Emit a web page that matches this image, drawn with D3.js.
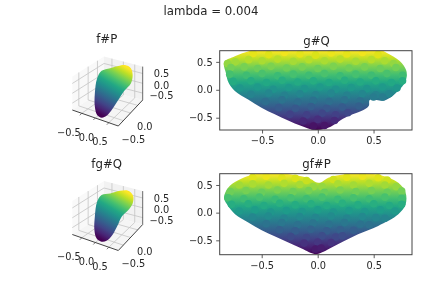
<!DOCTYPE html>
<html><head><meta charset="utf-8">
<script src="https://cdn.jsdelivr.net/npm/d3@7/dist/d3.min.js"></script>
<style>html,body{margin:0;background:#fff}svg{display:block;filter:blur(.35px)}text{font-family:"DejaVu Sans",sans-serif;fill:#262626}</style>
</head><body><script>
const suptitle = "lambda = 0.004";
const titles3d = ["f#P", "fg#Q"];
const titles2d = ["g#Q", "gf#P"];
const ticks2d = [-0.5, 0, 0.5];
const xTicks3d = [-0.5, 0, 0.5];
const yTicks3d = [-0.5, 0];
const zTicks3d = [-0.5, 0, 0.5];
const gridTicks3d = [-0.5, 0, 0.5];

const outlineGQ = [[-.84,.49],[-.825,.305],[-.80,.125],[-.744,-.02],[-.625,-.175],[-.505,-.32],[-.386,-.44],[-.266,-.55],[-.146,-.65],[-.027,-.72],[.092,-.68],[.182,-.575],[.272,-.47],[.39,-.38],[.457,-.29],[.466,-.185],[.60,-.19],[.72,-.02],[.787,.155],[.795,.335],[.735,.515],[.616,.665],[.54,.72],[0,.72],[-.54,.72],[-.655,.67],[-.744,.6]];
const outlineGFP = [[-.837,.27],[-.81,.15],[-.738,-.03],[-.62,-.18],[-.50,-.32],[-.38,-.43],[-.262,-.54],[-.143,-.65],[-.024,-.75],[.035,-.72],[.18,-.57],[.36,-.39],[.54,-.24],[.72,-.03],[.785,.15],[.785,.36],[.72,.54],[.57,.67],[.36,.71],[.184,.675],[.095,.63],[.02,.54],[-.024,.56],[-.054,.60],[-.2,.68],[-.41,.71],[-.59,.68],[-.71,.585],[-.80,.45]];

const pointsGQ = [
[-.58,.65],[-.44,.63],[-.30,.67],[-.16,.64],[-.02,.62],[.12,.66],[.26,.64],[.40,.67],[.54,.63],
[-.81,.47],[-.74,.50],[-.62,.54],[-.50,.52],[-.36,.55],[-.22,.51],[-.08,.54],[.06,.52],[.20,.55],[.34,.51],[.48,.54],[.60,.52],[.68,.47],
[-.78,.40],[-.66,.41],[-.54,.38],[-.42,.42],[-.28,.39],[-.14,.41],[0,.38],[.14,.42],[.28,.39],[.42,.41],[.56,.38],[.70,.40],
[-.79,.28],[-.64,.26],[-.50,.29],[-.36,.25],[-.22,.28],[-.08,.26],[.06,.29],[.20,.25],[.34,.28],[.48,.26],[.62,.29],[.76,.26],
[-.76,.15],[-.60,.16],[-.46,.13],[-.32,.17],[-.18,.14],[-.04,.16],[.10,.13],[.24,.17],[.38,.14],[.52,.16],[.66,.13],[.76,.16],
[-.70,.03],[-.54,.05],[-.40,.01],[-.26,.04],[-.12,.02],[.02,.05],[.16,.01],[.30,.04],[.44,.02],[.58,.05],[.71,.03],
[-.60,-.08],[-.44,-.06],[-.30,-.10],[-.16,-.07],[-.02,-.09],[.12,-.06],[.26,-.10],[.40,-.07],[.52,-.09],[.64,-.07],
[-.47,-.21],[-.32,-.18],[-.18,-.22],[-.04,-.19],[.10,-.21],[.24,-.18],[.38,-.20],[.50,-.13],[.58,-.13],
[-.35,-.32],[-.20,-.33],[-.06,-.30],[.08,-.33],[.22,-.31],[.37,-.29],
[-.25,-.44],[-.10,-.45],[.04,-.42],[.16,-.45],[.27,-.41],
[-.13,-.56],[0,-.53],[.15,-.55],
[-.04,-.65],[.06,-.64]];

const pointsGFP = [
[-.58,.64],[-.46,.66],[-.32,.63],[-.20,.62],[-.10,.58],[.14,.60],[.26,.64],[.40,.66],[.54,.63],[.62,.59],
[-.70,.50],[-.58,.52],[-.44,.50],[-.30,.53],[-.16,.51],[-.04,.47],[.04,.47],[.18,.52],[.32,.50],[.46,.53],[.60,.50],[.70,.47],
[-.78,.38],[-.64,.40],[-.50,.37],[-.36,.41],[-.22,.38],[-.08,.40],[.06,.37],[.20,.41],[.34,.38],[.48,.40],[.62,.37],[.75,.39],
[-.80,.27],[-.66,.25],[-.52,.28],[-.38,.24],[-.24,.27],[-.10,.25],[.04,.28],[.18,.24],[.32,.27],[.46,.25],[.60,.28],[.75,.26],
[-.77,.15],[-.62,.16],[-.48,.13],[-.34,.17],[-.20,.14],[-.06,.16],[.08,.13],[.22,.17],[.36,.14],[.50,.16],[.64,.13],[.75,.15],
[-.70,.03],[-.56,.05],[-.42,.01],[-.28,.04],[-.14,.02],[0,.05],[.14,.01],[.28,.04],[.42,.02],[.56,.05],[.69,.03],
[-.58,-.08],[-.44,-.06],[-.30,-.10],[-.16,-.07],[-.02,-.09],[.12,-.06],[.26,-.10],[.40,-.07],[.52,-.09],[.60,-.10],
[-.46,-.20],[-.32,-.18],[-.18,-.22],[-.04,-.19],[.10,-.21],[.24,-.18],[.38,-.21],[.46,-.22],
[-.34,-.31],[-.20,-.33],[-.06,-.30],[.08,-.33],[.20,-.31],[.32,-.32],
[-.24,-.43],[-.10,-.45],[.04,-.42],[.16,-.44],[.22,-.42],
[-.12,-.55],[0,-.53],[.12,-.54],
[-.02,-.66],[.03,-.64]];

const blobFP = [[-.12,-.57],[-.22,-.51],[-.27,-.33],[-.27,-.03],[-.22,.30],[-.12,.47],[.07,.53],[.25,.58],[.40,.60],[.53,.53],[.57,.38],[.53,.19],[.38,.02],[.25,-.18],[.12,-.38],[-.01,-.53]];
const blobFGQ = [[-.12,-.56],[-.23,-.49],[-.28,-.30],[-.27,0],[-.22,.33],[-.12,.48],[.07,.51],[.29,.57],[.47,.57],[.58,.46],[.57,.29],[.47,.14],[.33,0],[.24,-.19],[.12,-.41],[-.01,-.54]];

const W = 423, H = 282, L = 0.85;
const svg = d3.select("body").append("svg").attr("width", W).attr("height", H);
const defs = svg.append("defs");
const fmt = d => d3.format(".1f")(d).replace("-", "\u2212");
svg.append("text").attr("x", 211).attr("y", 15).attr("text-anchor", "middle").attr("font-size", 11.75).text(suptitle);

function gradient(id, x1, y1, x2, y2) {
  const g = defs.append("linearGradient").attr("id", id).attr("gradientUnits", "userSpaceOnUse")
    .attr("x1", x1).attr("y1", y1).attr("x2", x2).attr("y2", y2);
  d3.range(0, 1.01, 0.1).forEach(t => g.append("stop").attr("offset", t).attr("stop-color", d3.interpolateViridis(t)));
}

function panel2d(idx, title, outline, points, top, bottom, xd, yd) {
  const x = d3.scaleLinear().domain(xd).range([219.7, 412]);
  const y = d3.scaleLinear().domain(yd).range([bottom, top]);
  const c = d3.scaleSequential(d3.interpolateViridis).domain(yd);
  const id = "g2" + idx;
  gradient(id, 0, y(yd[0]), 0, y(yd[1]));
  defs.append("clipPath").attr("id", "c" + id).append("rect").attr("x", 219.7).attr("y", top).attr("width", 192.3).attr("height", bottom - top);
  const g = svg.append("g").attr("clip-path", `url(#c${id})`);
  g.append("path").attr("d", d3.line().x(d => x(d[0])).y(d => y(d[1])).curve(d3.curveCatmullRomClosed)(outline)).attr("fill", `url(#${id})`);
  g.selectAll("circle").data(points).join("circle").attr("cx", d => x(d[0])).attr("cy", d => y(d[1])).attr("r", 3.8).attr("fill", d => c(d[1]));
  const ax = svg.append("g").attr("transform", `translate(0,${bottom})`).call(d3.axisBottom(x).tickValues(ticks2d).tickFormat(fmt).tickSize(3.5).tickPadding(3.5));
  const ay = svg.append("g").attr("transform", "translate(219.7,0)").call(d3.axisLeft(y).tickValues(ticks2d).tickFormat(fmt).tickSize(3.5).tickPadding(3.5));
  [ax, ay].forEach(a => { a.selectAll(".domain").remove(); a.selectAll("line").attr("stroke", "#333").attr("stroke-width", .8); a.selectAll("text").attr("font-size", 9.8).attr("font-family", '"DejaVu Sans"'); });
  svg.append("rect").attr("x", 219.7).attr("y", top).attr("width", 192.3).attr("height", bottom - top).attr("fill", "none").attr("stroke", "#444").attr("stroke-width", 1);
  svg.append("text").attr("x", 316.5).attr("y", top - 6).attr("text-anchor", "middle").attr("font-size", 11.75).text(title);
}
panel2d(0, titles2d[0], outlineGQ, pointsGQ, 50.7, 130, [-.88, .845], [-.72, .70]);
panel2d(1, titles2d[1], outlineGFP, pointsGFP, 173.7, 254.7, [-.875, .842], [-.76, .704]);

function panel3d(idx, title, blob, dy) {
  const g = svg.append("g").attr("transform", `translate(0,${dy})`);
  const t = d3.scaleLinear().domain([-L, L]).range([0, 1]);
  const floorA = [[72.3, 110], [118.3, 126]], floorB = [[104, 90], [142.7, 100]];
  const lerp = (a, b, k) => [a[0] + (b[0] - a[0]) * k, a[1] + (b[1] - a[1]) * k];
  const p = (x, y, z) => {
    const q = lerp(lerp(floorA[0], floorA[1], t(x)), lerp(floorB[0], floorB[1], t(x)), t(y));
    return [q[0], q[1] - 33.4 * t(z)];
  };
  const line = d3.line();
  const poly = (pts, fill) => g.append("path").attr("d", d3.line().curve(d3.curveLinearClosed)(pts)).attr("fill", fill).attr("stroke", "none");
  const seg = (a, b, col, w) => g.append("path").attr("d", line([a, b])).attr("stroke", col).attr("stroke-width", w).attr("fill", "none");
  poly([p(-L,-L,-L), p(-L,L,-L), p(-L,L,L), p(-L,-L,L)], "#f9f9f9");
  poly([p(-L,L,-L), p(L,L,-L), p(L,L,L), p(-L,L,L)], "#f2f2f2");
  poly([p(-L,-L,-L), p(L,-L,-L), p(L,L,-L), p(-L,L,-L)], "#f5f5f5");
  const gc = "#c4c4c4";
  gridTicks3d.forEach(v => {
    seg(p(-L,v,-L), p(-L,v,L), gc, .8);
    seg(p(v,L,-L), p(v,L,L), gc, .8);
    seg(p(v,-L,-L), p(v,L,-L), gc, .8);
    seg(p(-L,v,-L), p(L,v,-L), gc, .8);
    seg(p(-L,-L,v), p(-L,L,v), gc, .8);
    seg(p(-L,L,v), p(L,L,v), gc, .8);
  });
  seg(p(-L,-L,-L), p(L,-L,-L), "#444", 1);
  seg(p(L,-L,-L), p(L,L,-L), "#444", 1);
  seg(p(L,L,-L), p(L,L,L), "#444", .8);
  const vx = d3.scaleLinear().domain([-1, 1]).range([62, 152]);
  const vy = d3.scaleLinear().domain([-1, 1]).range([137, 47]);
  const id = "g3" + idx;
  gradient(id, 103, 116, 130, 69.3);
  g.append("path").attr("d", d3.line().x(d => vx(d[0])).y(d => vy(d[1])).curve(d3.curveCatmullRomClosed)(blob)).attr("fill", `url(#${id})`);
  const label = (s, a, dx, yy, anchor) => g.append("text").attr("x", a[0] + dx).attr("y", a[1] + yy).attr("text-anchor", anchor).attr("font-size", 9.8).text(s);
  xTicks3d.forEach(v => { seg(p(v,-L,-L), [p(v,-L,-L)[0]-2, p(v,-L,-L)[1]+2], "#444", .7); label(fmt(v), p(v,-L,-L), -1, 22.5, "end"); });
  yTicks3d.forEach((v, i) => label(fmt(v), p(L,v,-L), 22, [22, 17][i], "end"));
  zTicks3d.forEach((v, i) => label(fmt(v), [161.5, p(L,L,v)[1]], 0, [6, 5.6, 4][i], "middle"));
  g.append("text").attr("x", 106.7).attr("y", 43).attr("text-anchor", "middle").attr("font-size", 11.75).text(title);
}
panel3d(0, titles3d[0], blobFP, 0);
panel3d(1, titles3d[1], blobFGQ, 124.5);
</script></body></html>
